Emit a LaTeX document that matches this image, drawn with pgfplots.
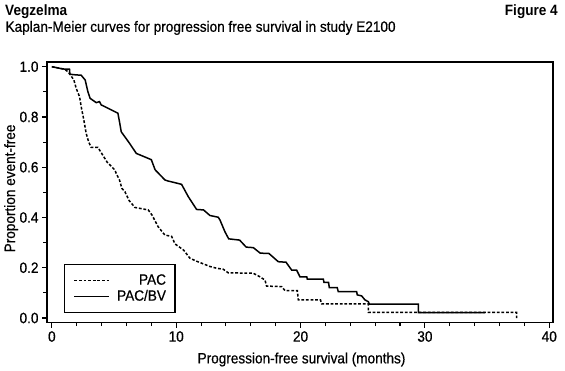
\documentclass[border=0pt]{standalone}
\usepackage{fontspec}
\setmainfont{Liberation Sans}[FakeStretch=0.91, UprightFeatures={FakeBold=0.6}]
\usepackage{pgfplots}
\pgfplotsset{compat=1.18}
\begin{document}
\begin{tikzpicture}
\path[use as bounding box] (0,0) rectangle (565bp,-371bp);
\node[anchor=base west, inner sep=0pt, font=\fontsize{15}{18}\selectfont\bfseries] at (5bp,-15.2bp) {Vegzelma};
\node[anchor=base east, inner sep=0pt, font=\fontsize{15}{18}\selectfont\bfseries] at (558bp,-15.2bp) {Figure 4};
\node[anchor=base west, inner sep=0pt, font=\fontsize{15}{18}\selectfont] at (5.4bp,-31.8bp) {Kaplan-Meier curves for progression free survival in study E2100};
\begin{axis}[
  at={(47bp,-322.7bp)}, anchor=south west,
  width=506bp, height=260.7bp, scale only axis,
  xmin=-0.39, xmax=40.3, ymin=-0.0187, ymax=1.0187,
  xtick={0,10,20,30,40}, minor x tick num=4,
  ytick={0,0.2,0.4,0.6,0.8,1.0}, minor y tick num=1,
  tick pos=left, tick align=outside,
  major tick length=5bp, minor tick length=3.5bp,
  every tick/.style={black, line width=1.1bp},
  axis line style={line width=1.3bp},
  /pgf/number format/assume math mode=true,
  yticklabel style={/pgf/number format/fixed, /pgf/number format/fixed zerofill, /pgf/number format/precision=1},
  ticklabel style={font=\fontsize{15}{18}\selectfont},
  xlabel={Progression-free survival (months)},
  ylabel={Proportion event-free},
  label style={font=\fontsize{15}{18}\selectfont},
  xlabel style={at={(axis description cs:0.503,-0.156)}, anchor=base, inner sep=0pt},
  ylabel style={at={(axis description cs:-0.0632,0.515)}, anchor=base, inner sep=0pt, rotate=0},
  legend style={at={(axis cs:0.97,0.215)}, anchor=north west, draw=black, line width=1.4bp,
    font=\fontsize{15}{18}\selectfont, cells={anchor=east}, inner xsep=9bp, inner ysep=9bp, row sep=2bp,
    nodes={inner sep=0bp, text height=11bp, text depth=3bp},
    /tikz/every odd column/.append style={column sep=7bp}},
  legend image code/.code={\draw[#1] (0bp,0bp) -- (35bp,0bp);},
]
\addplot[black, line width=1.5bp, dash pattern=on 2.8bp off 1.8bp] coordinates {
(0,1.0) (1.02,0.99) (1.29,0.98) (1.5,0.967) (1.77,0.947) (1.96,0.914) (2.23,0.88)
(2.36,0.841) (2.57,0.788) (2.76,0.735) (2.95,0.702) (3.16,0.679) (3.7,0.679)
(3.97,0.658) (4.45,0.62) (5.07,0.589) (5.17,0.576) (5.44,0.549) (5.63,0.516)
(5.87,0.503) (6.22,0.467) (6.68,0.44) (7.75,0.43) (8.05,0.41) (8.55,0.363)
(9.09,0.33) (9.63,0.325) (9.9,0.295) (10.6,0.27) (11.1,0.238) (11.64,0.226)
(12.71,0.205) (13.25,0.198) (13.78,0.194) (14.18,0.18) (16.2,0.178) (16.73,0.164)
(17.14,0.151) (17.27,0.127) (18.48,0.125) (18.75,0.109) (19.74,0.109) (19.82,0.072)
(21.6,0.072) (21.7,0.056) (25.45,0.056) (25.45,0.022) (37.38,0.022) (37.38,0.0)
};
\addlegendentry{PAC}
\addplot[black, line width=1.5bp] coordinates {
(0,1.0) (0.88,0.991) (1.42,0.99) (1.45,0.97) (1.82,0.968) (2.36,0.966) (2.68,0.947)
(2.9,0.90) (3.08,0.874) (3.57,0.857) (3.83,0.861) (3.97,0.848) (5.31,0.815)
(5.44,0.781) (5.58,0.741) (6.25,0.695) (6.79,0.655) (7.08,0.649) (8.0,0.630)
(8.3,0.59) (9.1,0.549) (9.36,0.545) (10.43,0.532) (10.97,0.483) (11.64,0.432)
(12.2,0.430) (12.71,0.408) (13.38,0.401) (13.52,0.39) (13.92,0.343) (14.22,0.315)
(15.1,0.31) (15.63,0.282) (16.2,0.280) (16.76,0.258) (17.45,0.257) (18.21,0.224)
(18.83,0.222) (19.28,0.191) (19.68,0.191) (19.95,0.164) (20.5,0.164) (20.54,0.155)
(21.83,0.155) (21.88,0.142) (22.25,0.142) (22.31,0.121) (22.95,0.121) (23.03,0.105)
(24.51,0.105) (24.56,0.092) (24.91,0.088) (25.18,0.072) (25.45,0.065) (25.53,0.055)
(29.47,0.055) (29.47,0.021) (34.83,0.021)
};
\addlegendentry{PAC/BV}
\end{axis}
\end{tikzpicture}
\end{document}
